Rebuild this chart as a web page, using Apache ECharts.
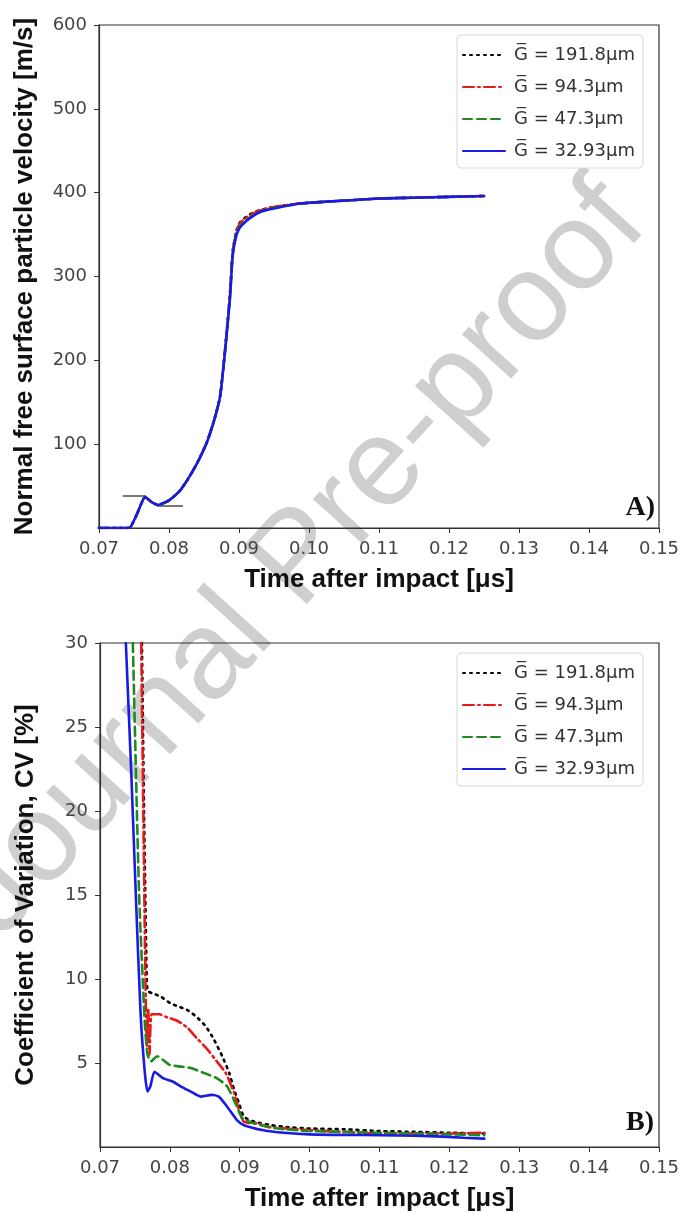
<!DOCTYPE html>
<html>
<head>
<meta charset="utf-8">
<script src="https://cdn.jsdelivr.net/npm/echarts@6.0.0/dist/echarts.min.js"></script>
<style>
  html, body { margin: 0; padding: 0; background: #fff; }
  #main { width: 681px; height: 1213px; }
</style>
</head>
<body>
<div id="main"></div>
<script>
// legend names
const names = ['G\u0305 = 191.8\u03bcm', 'G\u0305 = 94.3\u03bcm', 'G\u0305 = 47.3\u03bcm', 'G\u0305 = 32.93\u03bcm'];
const xTicks = [0.07, 0.08, 0.09, 0.10, 0.11, 0.12, 0.13, 0.14, 0.15];

// A) free surface velocity [m/s], shared time base
const tVel = [0.070, 0.0740, 0.0745, 0.0755, 0.0766, 0.0775, 0.0784, 0.0800, 0.0815, 0.0826, 0.0840, 0.0854, 0.0865, 0.0873, 0.0880, 0.0887, 0.0891, 0.0896, 0.0901, 0.0910, 0.0920, 0.0930, 0.0950, 0.0987, 0.1020, 0.1060, 0.1100, 0.1150, 0.1200, 0.1250];
const velK = [0, 0, 1, 18, 37, 31, 27.5, 33, 44, 57, 77, 102, 130, 157, 212, 278, 330, 354, 364, 371, 376, 379, 383, 387, 389, 391, 393, 394, 395, 396];
const velR = [0, 0, 1, 18, 37, 31, 27.5, 33, 44, 57, 77, 102, 130, 157, 212, 277, 329, 353, 363, 370, 375, 379, 383, 387, 389, 391, 393, 394, 395, 396];
const velG = [0, 0, 1, 18, 37, 31, 27.5, 33, 44, 57, 77, 102, 130, 157, 211, 275, 327, 350, 360, 367, 373, 377, 382, 387, 389, 391, 393, 394, 395, 396];
const velB = [0, 0, 1, 18, 37, 31, 27.5, 33, 44, 57, 77, 102, 130, 157, 210, 273, 325, 348, 358, 366, 372, 377, 381, 387, 389, 391, 393, 394, 395, 396];
// short horizontal guide marks: [t0, t1, v]
const guides = [[0.0734, 0.0767, 38], [0.0783, 0.0820, 27]];

// B) coefficient of variation [%]
const tCvK = [0.0760, 0.0763, 0.0766, 0.0768, 0.0775, 0.0787, 0.0801, 0.0813, 0.0825, 0.0838, 0.0851, 0.0863, 0.0875, 0.0885, 0.0892, 0.0899, 0.0906, 0.0921, 0.0945, 0.0963, 0.1000, 0.1050, 0.1100, 0.1150, 0.1200, 0.1250];
const cvK = [30, 20, 12, 9.3, 9.15, 8.95, 8.55, 8.35, 8.15, 7.75, 7.2, 6.4, 5.4, 4.4, 3.4, 2.6, 1.8, 1.5, 1.3, 1.2, 1.1, 1.05, 0.95, 0.9, 0.85, 0.8];
const tCvR = [0.0759, 0.0762, 0.0765, 0.0767, 0.0769, 0.0771, 0.0774, 0.0785, 0.0794, 0.0811, 0.0825, 0.0838, 0.0854, 0.0867, 0.0880, 0.0892, 0.0899, 0.0906, 0.0925, 0.0940, 0.1000, 0.1050, 0.1100, 0.1150, 0.1200, 0.1250];
const cvR = [30, 20, 10, 6, 8.2, 5.5, 7.9, 7.9, 7.75, 7.5, 7.1, 6.5, 5.8, 5.1, 4.4, 3.2, 2.2, 1.5, 1.4, 1.2, 1.0, 0.9, 0.8, 0.8, 0.8, 0.85];
const tCvG = [0.0747, 0.0756, 0.0764, 0.0768, 0.0773, 0.0782, 0.0799, 0.0813, 0.0830, 0.0849, 0.0867, 0.0882, 0.0896, 0.0904, 0.0921, 0.0954, 0.1000, 0.1100, 0.1200, 0.1250];
const cvG = [30, 15, 7.5, 5.5, 5.1, 5.4, 4.9, 4.8, 4.7, 4.4, 4.1, 3.6, 2.4, 1.7, 1.4, 1.1, 0.95, 0.85, 0.75, 0.7];
const tCvB = [0.0737, 0.0745, 0.0751, 0.0758, 0.0764, 0.0768, 0.0772, 0.0778, 0.0790, 0.0804, 0.0816, 0.0830, 0.0844, 0.0860, 0.0870, 0.0882, 0.0896, 0.0906, 0.0934, 0.0963, 0.1000, 0.1050, 0.1100, 0.1150, 0.1190, 0.1220, 0.1250];
const cvB = [30, 22, 15.3, 8, 4.5, 3.3, 3.6, 4.48, 4.1, 3.9, 3.6, 3.3, 3.0, 3.1, 3.0, 2.4, 1.6, 1.3, 1.0, 0.85, 0.75, 0.72, 0.7, 0.67, 0.62, 0.55, 0.5];

const zip = (xs, ys) => xs.map((x, i) => [x, ys[i]]);

const colors = ['#000000', '#e6191b', '#1f8a1f', '#1a1ae6'];
const dashes = [[2, 5], [11, 4, 2, 4], [9, 5], 'solid'];

function curve(name, idx, grid, data) {
    return {
        name: name,
        type: 'line',
        xAxisIndex: grid,
        yAxisIndex: grid,
        data: data,
        showSymbol: false,
        symbol: 'none',
        smooth: 0.2,
        clip: true,
        lineStyle: { color: colors[idx], width: 2.6, type: dashes[idx], cap: 'round' },
        itemStyle: { color: colors[idx] },
        z: 3 + idx
    };
}

const tickFont = { fontFamily: 'DejaVu Sans', fontSize: 18, color: '#444' };
const titleFont = { fontFamily: 'Liberation Sans', fontSize: 26, fontWeight: 'bold', color: '#111' };

function xAxisFor(grid) {
    return {
        type: 'value', gridIndex: grid, min: 0.07, max: 0.15, interval: 0.01,
        name: 'Time after impact [\u03bcs]', nameLocation: 'middle', nameGap: 39,
        nameTextStyle: titleFont,
        axisLine: { show: true, lineStyle: { color: '#333', width: 1.2 } },
        axisTick: { show: true, length: 5, lineStyle: { color: '#333' } },
        axisLabel: Object.assign({ margin: 12, formatter: v => v.toFixed(2) }, tickFont),
        splitLine: { show: false }
    };
}

function yAxisFor(grid, max, step, title) {
    return {
        type: 'value', gridIndex: grid, min: 0, max: max, interval: step,
        name: title, nameLocation: 'middle', nameGap: 61,
        nameTextStyle: titleFont,
        axisLine: { show: true, lineStyle: { color: '#333', width: 1.2 } },
        axisTick: { show: true, length: 5, lineStyle: { color: '#333' } },
        axisLabel: Object.assign({ margin: 12, showMinLabel: false }, tickFont),
        splitLine: { show: false }
    };
}

function legendAt(top) {
    return {
        data: names, orient: 'vertical', left: 457, top: top,
        itemWidth: 42, itemHeight: 12, itemGap: 14,
        padding: [11, 8, 8, 5],
        borderColor: '#d8d8d8', borderWidth: 1, borderRadius: 4,
        backgroundColor: '#fff',
        itemStyle: { color: 'rgba(0,0,0,0)', borderWidth: 0 },
        textStyle: { fontFamily: 'DejaVu Sans', fontSize: 18, color: '#333', padding: [0, 0, 0, 4] }
    };
}

const series = [
    curve(names[0], 0, 0, zip(tVel, velK)),
    curve(names[1], 1, 0, zip(tVel, velR)),
    curve(names[2], 2, 0, zip(tVel, velG)),
    curve(names[3], 3, 0, zip(tVel, velB)),
    {
        name: 'guides', type: 'line', xAxisIndex: 0, yAxisIndex: 0, data: [],
        markLine: {
            silent: true, symbol: 'none', label: { show: false },
            lineStyle: { color: '#555', width: 1.6, type: 'solid' },
            data: guides.map(g => [{ coord: [g[0], g[2]] }, { coord: [g[1], g[2]] }])
        }
    },
    curve(names[0], 0, 1, zip(tCvK, cvK)),
    curve(names[1], 1, 1, zip(tCvR, cvR)),
    curve(names[2], 2, 1, zip(tCvG, cvG)),
    curve(names[3], 3, 1, zip(tCvB, cvB))
];

const myChart = echarts.init(document.getElementById('main'));
myChart.setOption({
    backgroundColor: '#fff',
    animation: false,
    grid: [
        { left: 99, top: 25, width: 560, height: 503, show: true, borderColor: '#333', borderWidth: 1.2, outerBoundsMode: 'none', containLabel: false },
        { left: 100, top: 643, width: 559, height: 504, show: true, borderColor: '#333', borderWidth: 1.2, outerBoundsMode: 'none', containLabel: false }
    ],
    xAxis: [xAxisFor(0), xAxisFor(1)],
    yAxis: [
        yAxisFor(0, 600, 100, 'Normal free surface particle velocity [m/s]'),
        yAxisFor(1, 30, 5, 'Coefficient of Variation, CV [%]')
    ],
    legend: [legendAt(35), legendAt(653)],
    series: series,
    graphic: [
        {
            type: 'text', z: -10, x: 300, y: 560, rotation: 47.8 * Math.PI / 180,
            style: { text: 'Journal Pre-proof', font: '125px "Liberation Sans"', fill: '#cfcfcf', align: 'center', verticalAlign: 'middle' }
        },
        { type: 'text', x: 655, y: 522, style: { text: 'A)', font: 'bold 28px "Liberation Serif"', fill: '#111', align: 'right', verticalAlign: 'bottom' } },
        { type: 'text', x: 654, y: 1137, style: { text: 'B)', font: 'bold 28px "Liberation Serif"', fill: '#111', align: 'right', verticalAlign: 'bottom' } }
    ]
});
</script>
</body>
</html>
